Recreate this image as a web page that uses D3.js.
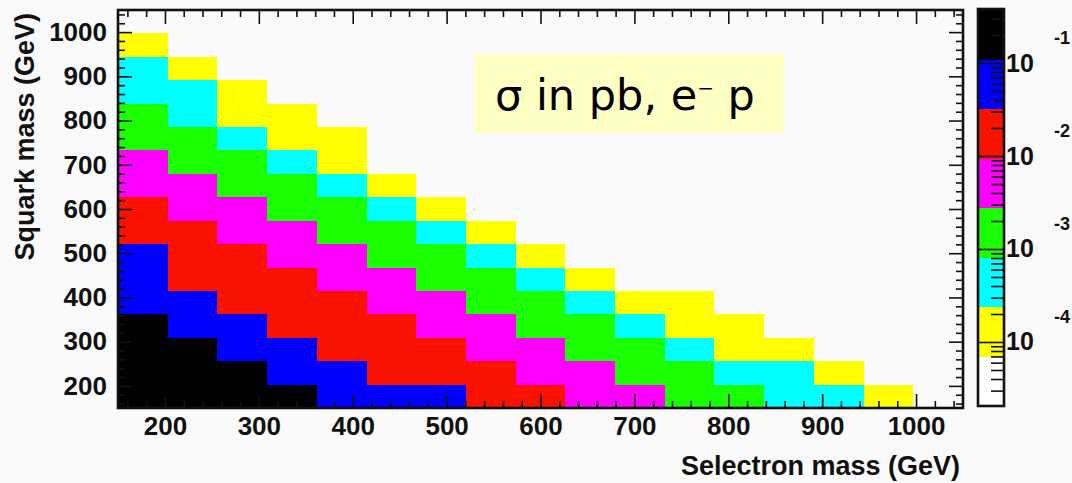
<!DOCTYPE html>
<html>
<head>
<meta charset="utf-8">
<script src="https://cdn.jsdelivr.net/npm/d3@7"></script>
<style>
  html, body { margin: 0; padding: 0; background: #fafafa; }
  svg { display: block; }
  .lbl { font-family: "Liberation Sans", Arial, Helvetica, sans-serif; font-weight: bold; fill: #111; }
</style>
</head>
<body>
<svg id="chart" width="1072" height="483"></svg>
<script>
// Histogram binning in GeV, identical for both mass axes
const massLow = 150;
const massHigh = 1050;
const nBins = 17;
const massTicks = [200, 300, 400, 500, 600, 700, 800, 900, 1000];

// Cross section in pb: sigmaPb[i][j] = selectron bin i, squark bin j (ascending). 0 = empty bin.
const sigmaPb = [
  [0.36, 0.27, 0.20, 0.15, 0.10, 0.066, 0.044, 0.027, 0.015, 0.0078, 0.0043, 0.0023, 0.0012, 0.00068, 0.00036, 0.00014, 0],
  [0.30, 0.21, 0.15, 0.09, 0.052, 0.030, 0.019, 0.012, 0.0078, 0.0043, 0.0023, 0.0012, 0.00068, 0.00036, 0.00014, 0, 0],
  [0.22, 0.15, 0.09, 0.052, 0.030, 0.019, 0.012, 0.0078, 0.0043, 0.0023, 0.0012, 0.00048, 0.0002, 0.00011, 0, 0, 0],
  [0.16, 0.09, 0.052, 0.030, 0.019, 0.012, 0.0078, 0.0043, 0.0023, 0.0012, 0.00048, 0.0002, 0.00011, 0, 0, 0, 0],
  [0.085, 0.05, 0.030, 0.019, 0.012, 0.0078, 0.0043, 0.0023, 0.0012, 0.00048, 0.0002, 0.00011, 0, 0, 0, 0, 0],
  [0.045, 0.030, 0.019, 0.012, 0.0078, 0.0043, 0.0023, 0.0012, 0.00048, 0.00014, 0, 0, 0, 0, 0, 0, 0],
  [0.040, 0.025, 0.014, 0.0075, 0.0042, 0.0022, 0.0012, 0.00045, 0.00013, 0, 0, 0, 0, 0, 0, 0, 0],
  [0.028, 0.016, 0.0072, 0.0040, 0.0021, 0.0011, 0.00042, 0.00012, 0, 0, 0, 0, 0, 0, 0, 0, 0],
  [0.014, 0.0070, 0.0038, 0.0020, 0.0011, 0.00040, 0.00012, 0, 0, 0, 0, 0, 0, 0, 0, 0, 0],
  [0.0065, 0.0036, 0.0019, 0.0010, 0.00038, 0.00011, 0, 0, 0, 0, 0, 0, 0, 0, 0, 0, 0],
  [0.0034, 0.0018, 0.00095, 0.00035, 0.00010, 0, 0, 0, 0, 0, 0, 0, 0, 0, 0, 0, 0],
  [0.0017, 0.0009, 0.00033, 0.00019, 0.00010, 0, 0, 0, 0, 0, 0, 0, 0, 0, 0, 0, 0],
  [0.0009, 0.00032, 0.00017, 0.00009, 0, 0, 0, 0, 0, 0, 0, 0, 0, 0, 0, 0, 0],
  [0.0005, 0.00028, 0.00015, 0, 0, 0, 0, 0, 0, 0, 0, 0, 0, 0, 0, 0, 0],
  [0.00026, 0.00013, 0, 0, 0, 0, 0, 0, 0, 0, 0, 0, 0, 0, 0, 0, 0],
  [0.00010, 0, 0, 0, 0, 0, 0, 0, 0, 0, 0, 0, 0, 0, 0, 0, 0],
  [0, 0, 0, 0, 0, 0, 0, 0, 0, 0, 0, 0, 0, 0, 0, 0, 0]
];

// z-axis range (pb) and the eight-level palette from lowest to highest
const zMin = 2.05e-5;
const zMax = 0.3715;
const palette = ["#ffffff", "#ffff00", "#00ffff", "#19ff00", "#ff00ff", "#fa1200", "#0000ff", "#000000"];
const zDecades = [1e-1, 1e-2, 1e-3, 1e-4];
const zExponents = ["-1", "-2", "-3", "-4"];

const xTitle = "Selectron mass (GeV)";
const yTitle = "Squark mass (GeV)";

const svg = d3.select("#chart");
const frame = { left: 118, right: 963, top: 10, bottom: 408 };

const x = d3.scaleLinear().domain([massLow, massHigh]).range([frame.left, frame.right]);
const y = d3.scaleLinear().domain([massLow, massHigh]).range([frame.bottom, frame.top]);
const binWidth = (massHigh - massLow) / nBins;
const edges = d3.range(nBins + 1).map(k => massLow + k * binWidth);

const level = d3.scaleQuantize()
  .domain([Math.log10(zMin), Math.log10(zMax)])
  .range(palette);
const colorOf = v => level(Math.log10(v));

// background of the pad
svg.append("rect").attr("width", 1072).attr("height", 483).attr("fill", "#fafafa");

// cells
const cells = [];
sigmaPb.forEach((col, i) => col.forEach((v, j) => { if (v > 0) cells.push({ i, j, v }); }));
svg.append("g").attr("shape-rendering", "crispEdges")
  .selectAll("rect").data(cells).join("rect")
  .attr("x", d => x(edges[d.i]))
  .attr("width", d => x(edges[d.i + 1]) - x(edges[d.i]))
  .attr("y", d => y(edges[d.j + 1]))
  .attr("height", d => y(edges[d.j]) - y(edges[d.j + 1]))
  .attr("fill", d => colorOf(d.v));

// axes: minor ticks every 20 GeV, major every 100 GeV, drawn inward on all four sides
const minor = d3.range(160, massHigh, 20).filter(v => v % 100 !== 0);
function styleAxis(g) {
  g.select(".domain").remove();
  g.selectAll(".tick line").attr("stroke", "#111").attr("stroke-width", 1.6);
}
const addAxis = (axis, tx, ty) => svg.append("g").attr("transform", `translate(${tx},${ty})`).call(axis).call(styleAxis);

addAxis(d3.axisBottom(x).tickValues(minor).tickSize(-7).tickFormat(""), 0, frame.bottom);
addAxis(d3.axisTop(x).tickValues(minor).tickSize(-7).tickFormat(""), 0, frame.top);
addAxis(d3.axisLeft(y).tickValues(minor).tickSize(-7).tickFormat(""), frame.left, 0);
addAxis(d3.axisRight(y).tickValues(minor).tickSize(-7).tickFormat(""), frame.right, 0);
addAxis(d3.axisTop(x).tickValues(massTicks).tickSize(-14).tickFormat(""), 0, frame.top);
addAxis(d3.axisRight(y).tickValues(massTicks).tickSize(-14).tickFormat(""), frame.right, 0);

const xAx = addAxis(d3.axisBottom(x).tickValues(massTicks).tickSize(-14).tickPadding(9).tickFormat(d3.format("d")), 0, frame.bottom);
const yAx = addAxis(d3.axisLeft(y).tickValues(massTicks).tickSize(-14).tickPadding(11).tickFormat(d3.format("d")), frame.left, 0);
[xAx, yAx].forEach(g => g.selectAll("text").attr("class", "lbl").attr("font-size", 26).attr("fill", "#111"));

// frame
svg.append("rect")
  .attr("x", frame.left).attr("y", frame.top)
  .attr("width", frame.right - frame.left).attr("height", frame.bottom - frame.top)
  .attr("fill", "none").attr("stroke", "#111").attr("stroke-width", 2.6);

// axis titles
svg.append("text").attr("class", "lbl").attr("font-size", 27)
  .attr("x", 960).attr("y", 475).attr("text-anchor", "end").text(xTitle);
svg.append("text").attr("class", "lbl").attr("font-size", 27)
  .attr("transform", "translate(34,13) rotate(-90)").attr("text-anchor", "end").text(yTitle);

// legend box
const note = svg.append("g");
note.append("rect").attr("x", 474).attr("y", 54).attr("width", 310).attr("height", 79).attr("fill", "#ffffc4");
const noteText = note.append("text").attr("x", 495).attr("y", 110)
  .attr("font-family", "'DejaVu Sans', Verdana, sans-serif").attr("font-size", 43).attr("fill", "#000");
noteText.append("tspan").text("\u03c3 in pb, e");
noteText.append("tspan").attr("font-size", 20).attr("dy", -15).text("\u2212");
noteText.append("tspan").attr("dy", 15).text(" p");

// colour bar
const bar = { left: 979, right: 1003, top: 10, bottom: 406 };
const z = d3.scaleLog().domain([zMin, zMax]).range([bar.bottom, bar.top]);
const bounds = [Math.log10(zMin), ...level.thresholds(), Math.log10(zMax)];
const bands = palette.map((c, k) => ({ c, lo: Math.pow(10, bounds[k]), hi: Math.pow(10, bounds[k + 1]) }));
svg.append("g").attr("shape-rendering", "crispEdges")
  .selectAll("rect").data(bands).join("rect")
  .attr("x", bar.left).attr("width", bar.right - bar.left)
  .attr("y", d => z(d.hi)).attr("height", d => z(d.lo) - z(d.hi))
  .attr("fill", d => d.c);

const zMinor = [];
for (let e = -5; e <= -1; e++) for (let k = 2; k <= 9; k++) {
  const v = k * Math.pow(10, e);
  if (v > zMin && v < zMax) zMinor.push(v);
}
svg.append("g").attr("transform", `translate(${bar.right},0)`)
  .call(d3.axisRight(z).tickValues(zMinor).tickSize(-12).tickFormat(""))
  .call(styleAxis);
const zAx = svg.append("g").attr("transform", `translate(${bar.right},0)`)
  .call(d3.axisRight(z).tickValues(zDecades).tickSize(-(bar.right - bar.left)).tickPadding(3).tickFormat(() => "10"))
  .call(styleAxis);
zAx.selectAll("text").attr("class", "lbl").attr("font-size", 25).attr("fill", "#111");

svg.append("g").selectAll("text").data(zDecades).join("text")
  .attr("class", "lbl").attr("font-size", 18)
  .attr("x", 1054).attr("y", d => z(d) - 25).attr("dy", "0.35em")
  .text((d, k) => zExponents[k]);

svg.append("rect")
  .attr("x", bar.left - 1).attr("y", bar.top - 1)
  .attr("width", bar.right - bar.left + 2).attr("height", bar.bottom - bar.top + 1)
  .attr("fill", "none").attr("stroke", "#111").attr("stroke-width", 2.6);
</script>
</body>
</html>
